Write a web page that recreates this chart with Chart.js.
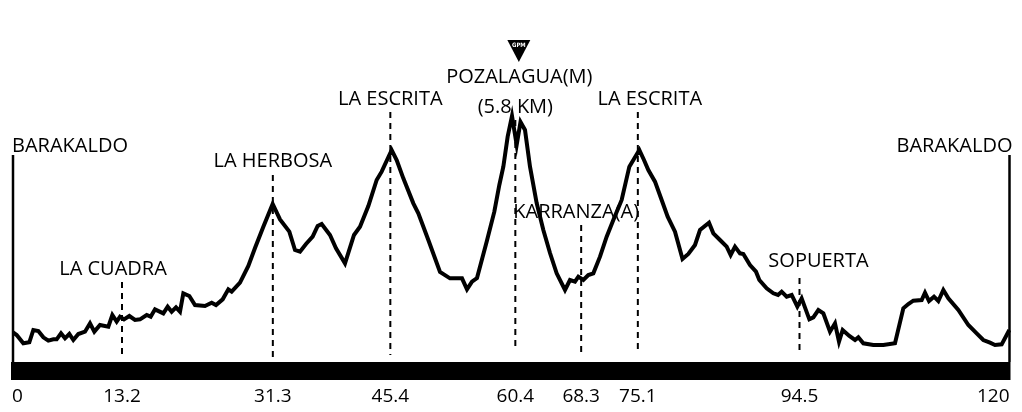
<!DOCTYPE html>
<html lang="es">
<head>
  <meta charset="UTF-8" />
  <title>Perfil de etapa</title>
  <script src="https://cdn.jsdelivr.net/npm/chart.js@4.4.3/dist/chart.umd.min.js"></script>
  <style>
    html, body { margin: 0; padding: 0; background: #fff; }
    #perfil { display: block; }
  </style>
</head>
<body>
  <canvas id="perfil" width="1022" height="412"></canvas>

  <script>
    // Perfil: kilometro y altitud (m)
    const km = [0, 0.56, 1.36, 2.08, 2.56, 3.16, 3.76, 4.36, 4.96, 5.36,
      5.88, 6.36, 6.88, 7.36, 7.96, 8.76, 9.36, 9.88, 10.56, 11.56,
      12.04, 12.56, 12.96, 13.44, 14.08, 14.76, 15.36, 16.16, 16.64, 17.16,
      18.16, 18.68, 19.16, 19.68, 20.16, 20.56, 21.28, 21.96, 23.16, 23.96,
      24.48, 25.28, 25.96, 26.36, 27.36, 28.36, 29.16, 30.16, 31.28, 32.16,
      33.28, 33.96, 34.56, 35.28, 36.08, 36.68, 37.16, 38.16, 38.88, 39.96,
      41.04, 41.76, 42.76, 43.76, 44.36, 45.56, 46.16, 46.96, 48.16, 48.76,
      49.96, 51.36, 52.56, 54.0, 54.6, 55.2, 55.8, 56.96, 57.88, 58.48,
      58.96, 59.48, 60.0, 60.56, 61.02, 61.56, 62.16, 62.96, 63.76, 64.56,
      65.36, 66.36, 66.96, 67.56, 67.96, 68.56, 69.16, 69.76, 70.56, 71.36,
      72.16, 73.16, 74.08, 75.28, 75.84, 76.36, 77.16, 77.96, 78.68, 79.56,
      80.46, 81.16, 81.96, 82.56, 83.64, 84.16, 84.96, 85.76, 86.24, 86.76,
      87.36, 87.76, 88.56, 89.28, 89.68, 90.56, 91.36, 91.92, 92.36, 92.96,
      93.56, 94.24, 94.76, 95.68, 96.16, 96.76, 97.36, 98.16, 98.76, 99.24,
      99.68, 100.48, 101.16, 101.56, 102.16, 103.36, 104.56, 105.96, 106.96, 107.56,
      108.16, 109.16, 109.56, 110.04, 110.64, 111.16, 111.76, 112.36, 113.56, 114.76,
      115.76, 116.56, 117.36, 117.96, 118.76, 119.68];

    const altitud = [91, 81, 56, 59, 96, 93, 74, 64, 68, 68,
      86, 71, 84, 66, 84, 91, 116, 91, 111, 106,
      141, 121, 136, 128, 138, 126, 128, 141, 136, 158,
      146, 166, 151, 164, 151, 206, 198, 171, 168, 178,
      171, 188, 218, 211, 238, 288, 342, 406, 474, 428,
      391, 336, 331, 354, 376, 408, 414, 381, 341, 296,
      381, 406, 468, 546, 571, 636, 606, 551, 476, 446,
      366, 270, 251, 251, 218, 241, 252, 361, 451, 531,
      586, 676, 738, 651, 720, 696, 586, 477, 396, 327,
      266, 216, 246, 241, 256, 246, 261, 266, 316, 376,
      426, 486, 586, 636, 606, 576, 541, 486, 436, 391,
      309, 324, 351, 396, 418, 386, 366, 346, 321, 346,
      326, 324, 291, 271, 246, 221, 206, 201, 211, 196,
      201, 166, 191, 128, 134, 156, 146, 91, 116, 61,
      96, 78, 66, 74, 56, 51, 51, 56, 161, 174,
      184, 186, 208, 183, 196, 183, 216, 191, 156, 111,
      86, 66, 58, 51, 53, 96];

    // Puntos de paso
    const puertos = ['LA CUADRA', 'LA HERBOSA', 'LA ESCRITA', 'POZALAGUA(M)\n(5.8 KM)', 'KARRANZA(A)', 'LA ESCRITA', 'SOPUERTA'];
    const puertosKm = [13.2, 31.3, 45.4, 60.4, 68.3, 75.1, 94.5];
    const ticksKm = [0, 13.2, 31.3, 45.4, 60.4, 68.3, 75.1, 94.5, 120];
    const salida = 'BARAKALDO';
    const llegada = 'BARAKALDO';
    const kmFinal = 119.7;

    const FUENTE = '"Open Sans", "Noto Sans", sans-serif';

    // donde va cada texto: desplazamiento en px, y en metros (base del texto, arriba y abajo del trazo)
    const colocacion = [
      { dx: -9, base: 261, arriba: 240, abajo: 18 },
      { dx: 0, base: 585, arriba: 561, abajo: 6 },
      { dx: 0, base: 771, arriba: 750, abajo: 21 },
      { dx: 2, base: 837, arriba: 726, abajo: 36, gpm: true },
      { dx: -5, base: 432, arriba: 411, abajo: 15 },
      { dx: 12, base: 771, arriba: 750, abajo: 36 },
      { dx: 19, base: 285, arriba: 252, abajo: 21 }
    ];

    const perfilPlugin = {
      id: 'perfil',
      beforeDatasetsDraw(chart) {
        const { ctx, scales: { x, y } } = chart;
        ctx.save();
        // lineas discontinuas
        ctx.strokeStyle = '#000';
        ctx.lineWidth = 2;
        ctx.setLineDash([6, 5]);
        puertosKm.forEach((k, i) => {
          const c = colocacion[i];
          const px = x.getPixelForValue(k);
          ctx.beginPath();
          ctx.moveTo(px, y.getPixelForValue(c.arriba));
          ctx.lineTo(px, y.getPixelForValue(c.abajo));
          ctx.stroke();
        });
        ctx.setLineDash([]);

        // salida y llegada
        ctx.lineWidth = 2.5;
        const yTope = y.getPixelForValue(621);
        [0, kmFinal].forEach(k => {
          const px = x.getPixelForValue(k) + (k === 0 ? 1 : 0);
          ctx.beginPath();
          ctx.moveTo(px, yTope);
          ctx.lineTo(px, y.getPixelForValue(0));
          ctx.stroke();
        });

        // barra negra
        ctx.fillStyle = '#000';
        const x0 = x.getPixelForValue(0) - 1;
        const x1 = x.getPixelForValue(kmFinal) + 1;
        const yb = y.getPixelForValue(0);
        ctx.fillRect(x0, yb, x1 - x0, 18);

        // kilometros bajo la barra
        ctx.font = '19px ' + FUENTE;
        ctx.textBaseline = 'alphabetic';
        ticksKm.forEach((k, i) => {
          let px = x.getPixelForValue(k);
          if (i === 0) { ctx.textAlign = 'left'; px = x.getPixelForValue(0); }
          else if (i === ticksKm.length - 1) { ctx.textAlign = 'right'; px = x.getPixelForValue(kmFinal); }
          else ctx.textAlign = 'center';
          ctx.fillText(String(k), px, yb + 40);
        });
        ctx.restore();
      },
      afterDatasetsDraw(chart) {
        const { ctx, scales: { x, y } } = chart;
        ctx.save();
        ctx.fillStyle = '#000';
        ctx.font = '20px ' + FUENTE;
        ctx.textBaseline = 'alphabetic';

        puertos.forEach((nombre, i) => {
          const c = colocacion[i];
          const px = x.getPixelForValue(puertosKm[i]) + c.dx;
          const lineas = nombre.split('\n');
          ctx.textAlign = 'center';
          if (lineas.length > 1) {
            ctx.fillText(lineas[0], px + 2, y.getPixelForValue(c.base));
            ctx.fillText(lineas[1], px - 2, y.getPixelForValue(c.base) + 30);
          } else {
            ctx.fillText(nombre, px, y.getPixelForValue(c.base));
          }
          if (c.gpm) {
            // triangulo de meta de montaña
            const cx = px + 1.5;
            const yPunta = y.getPixelForValue(900);
            ctx.beginPath();
            ctx.moveTo(cx - 11.5, yPunta - 22);
            ctx.lineTo(cx + 11.5, yPunta - 22);
            ctx.lineTo(cx, yPunta);
            ctx.closePath();
            ctx.fill();
            ctx.fillStyle = '#fff';
            ctx.font = 'bold 6px "DejaVu Sans Condensed", sans-serif';
            ctx.fillText('GPM', cx, yPunta - 15);
            ctx.fillStyle = '#000';
            ctx.font = '20px ' + FUENTE;
          }
        });

        const yNombre = y.getPixelForValue(630);
        ctx.textAlign = 'left';
        ctx.fillText(salida, x.getPixelForValue(0), yNombre);
        ctx.textAlign = 'right';
        ctx.fillText(llegada, x.getPixelForValue(kmFinal) + 3, yNombre);
        ctx.restore();
      }
    };

    new Chart(document.getElementById('perfil'), {
      type: 'line',
      data: {
        datasets: [{
          data: km.map((k, i) => ({ x: k, y: altitud[i] })),
          borderColor: '#000',
          borderWidth: 4,
          borderJoinStyle: 'miter',
          pointRadius: 0,
          tension: 0,
          fill: false
        }]
      },
      options: {
        responsive: false,
        animation: false,
        layout: { padding: { left: 12, right: 10, top: 2, bottom: 50 } },
        scales: {
          x: {
            type: 'linear',
            display: false,
            min: 0,
            max: 120
          },
          y: {
            display: false,
            min: 0,
            max: 1080
          }
        },
        plugins: {
          legend: { display: false },
          tooltip: { enabled: false }
        }
      },
      plugins: [perfilPlugin]
    });
  </script>
</body>
</html>
